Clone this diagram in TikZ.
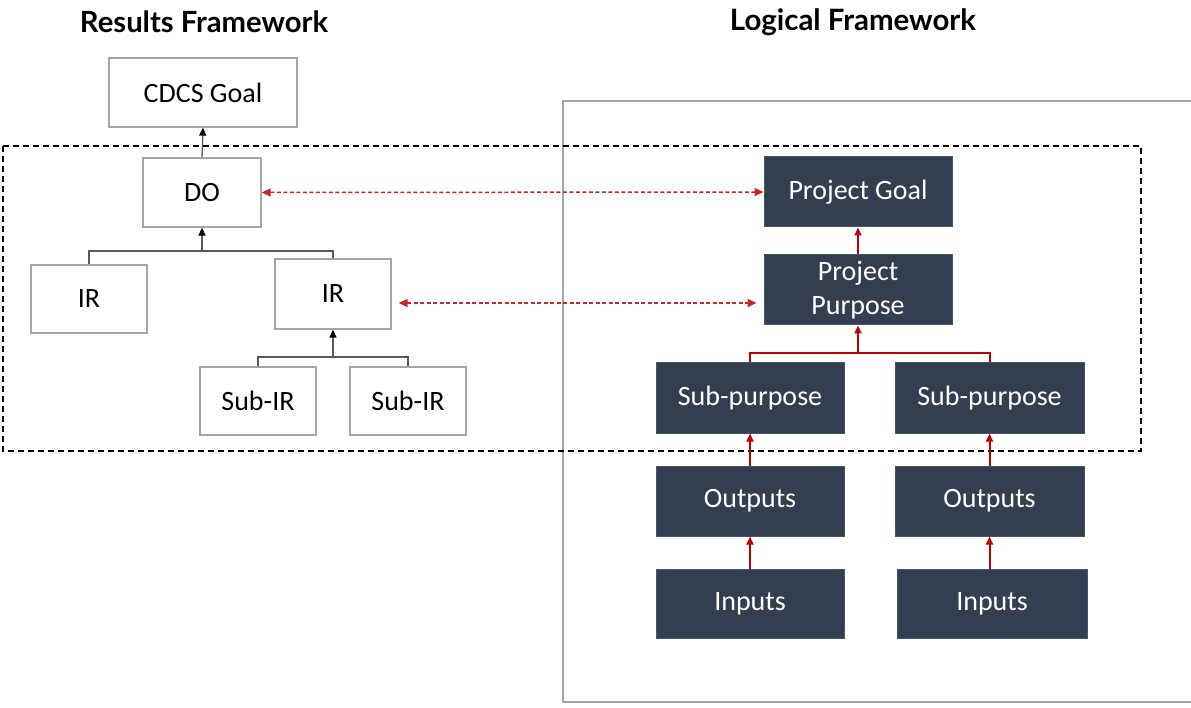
\documentclass[tikz,border=0pt]{standalone}
\usepackage{fontspec}
\usepackage{graphicx}
\setmainfont{Carlito}
\newfontfamily\titlefont{Lato}
\usetikzlibrary{arrows.meta,calc}
\definecolor{darkbox}{HTML}{333F50}
\definecolor{darkedge}{HTML}{44556F}
\definecolor{redline}{HTML}{C00000}
\definecolor{grayedge}{HTML}{A6A6A6}
\definecolor{connline}{HTML}{595959}
\tikzset{
  lightbox/.style={draw=grayedge, line width=1.3pt, fill=white, inner sep=0pt,
    font=\fontsize{28}{34}\selectfont, text=black},
  darkboxst/.style={draw=darkedge, line width=1pt, fill=darkbox, inner sep=0pt,
    font=\fontsize{28}{34}\selectfont, text=white, align=center},
  blackconn/.style={draw=connline, line width=1.3pt},
  blackarr/.style={blackconn, -{Triangle[length=8pt,width=7pt,color=black]}},
  redconn/.style={draw=redline, line width=2pt},
  redarr/.style={redconn, -{Triangle[length=8pt,width=7pt]}},
  reddash/.style={draw=redline!85, line width=1.5pt, dash pattern=on 4pt off 2.5pt,
    {Triangle[length=9pt,width=8pt]}-{Triangle[length=9pt,width=8pt]}},
  titlest/.style={inner sep=0pt, text=black}
}
\begin{document}
\begin{tikzpicture}[x=1pt,y=-1pt]
\useasboundingbox (0,0) rectangle (1191,708);
\fill[white] (0,0) rectangle (1191,708);

% titles
\node[titlest] (t1) at (204,22) {\resizebox{248pt}{!}{\titlefont\bfseries Results Framework}};
\node[titlest] (t2) at (853,22) {\resizebox{246pt}{!}{\titlefont\bfseries Logical Framework}};

% grey frame (open to the right edge)
\draw[grayedge, line width=1.5pt] (1195,101) -- (563,101) -- (563,702) -- (1195,702);

% dashed black frame
\draw[black, line width=1.5pt, dash pattern=on 6pt off 4pt] (3,146) rectangle (1141,451);

% results framework
\node[lightbox, minimum width=188pt, minimum height=69pt] (cdcs) at (203,92.5) {CDCS Goal};
\node[lightbox, minimum width=118pt, minimum height=69pt] (do) at (202,192.5) {DO};
\node[lightbox, minimum width=116pt, minimum height=68pt] (irl) at (89,299) {IR};
\node[lightbox, minimum width=116pt, minimum height=70pt] (irr) at (333,294) {IR};
\node[lightbox, minimum width=116pt, minimum height=68pt] (subl) at (258,401) {Sub-IR};
\node[lightbox, minimum width=116pt, minimum height=68pt] (subr) at (408,401) {Sub-IR};

\coordinate (j1) at (333,357);
\coordinate (j2) at (202,251);
\draw[blackconn] (subl.north) |- (j1) -| (subr.north);
\draw[blackarr] (j1) -- (irr.south);
\draw[blackconn] (irl.north) |- (j2) -| (irr.north);
\draw[blackarr] (j2) -- (do.south);
\draw[blackarr] (do.north) -- (cdcs.south);

% logical framework
\node[darkboxst, minimum width=188pt, minimum height=70pt] (pg) at (858,192) {Project Goal};
\node[darkboxst, minimum width=188pt, minimum height=70pt] (pp) at (858,290) {Project\\Purpose};
\node[darkboxst, minimum width=188pt, minimum height=70pt] (spl) at (750,398) {Sub-purpose};
\node[darkboxst, minimum width=189pt, minimum height=70pt] (spr) at (989.5,398) {Sub-purpose};
\node[darkboxst, minimum width=188pt, minimum height=70pt] (outl) at (750,501) {Outputs};
\node[darkboxst, minimum width=189pt, minimum height=70pt] (outr) at (989.5,501) {Outputs};
\node[darkboxst, minimum width=188pt, minimum height=69pt] (inl) at (750,603.5) {Inputs};
\node[darkboxst, minimum width=190pt, minimum height=69pt] (inr) at (992,603.5) {Inputs};

\coordinate (j3) at (858,353);
\draw[redconn] (spl.north) |- (j3) -| (spr.north);
\draw[redarr] (j3) -- (pp.south);
\draw[redarr] (pp.north) -- (pg.south);
\draw[redarr] (outl.north) -- (spl.south);
\draw[redarr] (outr.north) -- (spr.south);
\draw[redarr] (inl.north) -- (outl.south);
\draw[redarr] (inr.north -| outr) -- (outr.south);

% cross links
\draw[reddash] (do.east) -- (pg.west);
\draw[reddash] ($(irr.east)+(7,9)$) -- ($(pp.west)+(-7,13)$);
\end{tikzpicture}
\end{document}
